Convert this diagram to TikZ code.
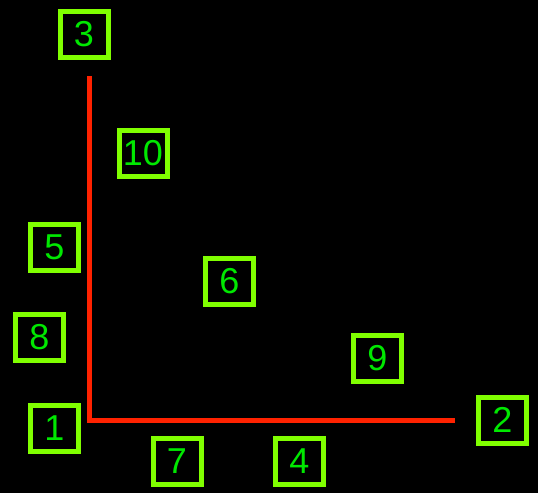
\documentclass[tikz,border=0pt]{standalone}
\usepackage{fontspec}
\setmainfont{Liberation Sans}
\usepackage{xcolor}
\usetikzlibrary{positioning}
\definecolor{boxgreen}{RGB}{128,255,0}
\definecolor{txtgreen}{RGB}{0,232,0}
\definecolor{axisred}{RGB}{255,34,0}

\begin{document}
\begin{tikzpicture}[
  x=1pt, y=-1pt,
  lbl/.style={draw=boxgreen, line width=5pt, text=txtgreen, inner sep=0pt,
              minimum width=48pt, minimum height=46pt, font=\fontsize{36}{36}\selectfont},
  axis/.style={draw=axisred, line width=5pt}
]
  \fill[black] (0,0) rectangle (538,493);
  \useasboundingbox (0,0) rectangle (538,493);

  % axes
  \coordinate (top) at (89,76);
  \coordinate (origin) at (89,420);
  \coordinate (end) at (455,420);
  \draw[axis] (top) -- (origin) -- (end);

  % labels
  \node[lbl] (n1) at (54.5,428) {1};
  \node[lbl] (n2) at (502.5,420) {2};
  \node[lbl] (n3) at (84,34) {3};
  \node[lbl] (n4) at (299.5,461.5) {4};
  \node[lbl] (n5) at (54.5,247) {5};
  \node[lbl] (n6) at (229.5,281.5) {6};
  \node[lbl] (n7) at (177,461.5) {7};
  \node[lbl] (n8) at (39.5,337.5) {8};
  \node[lbl] (n9) at (377.5,358.5) {9};
  \node[lbl] (n10) at (143,153.5) {10};
\end{tikzpicture}
\end{document}
